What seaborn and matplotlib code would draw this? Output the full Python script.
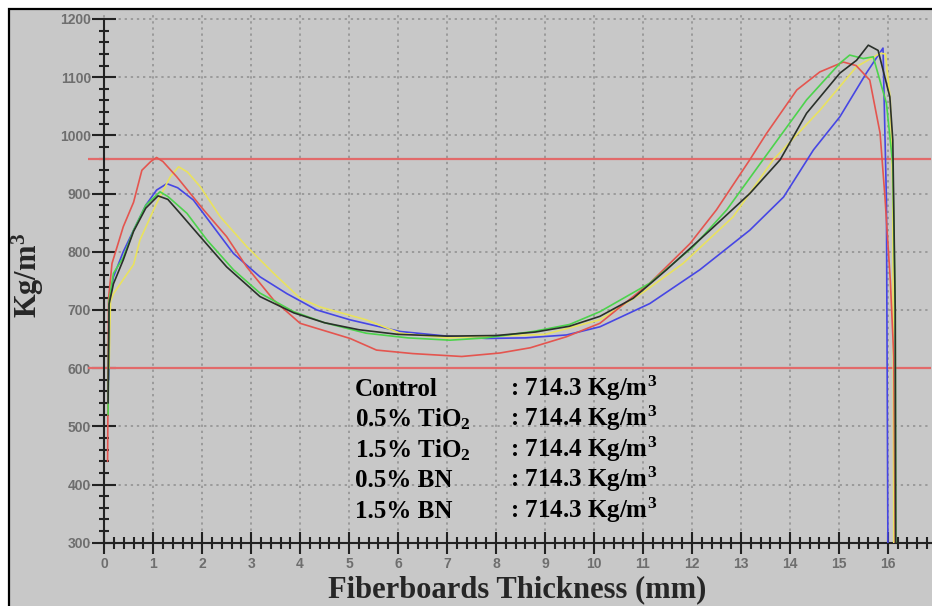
import numpy as np
import pandas as pd
import matplotlib
matplotlib.use("Agg")
import matplotlib.pyplot as plt
from matplotlib.patches import Rectangle
from matplotlib.ticker import FixedLocator
import seaborn as sns

# ---------------- data ----------------
red_x = [0.07, 0.09, 0.16, 0.39, 0.6, 0.77, 0.95, 1.07, 1.2, 1.48, 2.03, 2.5, 2.91, 3.46, 4.0,
         5.02, 5.56, 6.3, 7.3, 8.08, 8.7, 9.44, 10.12, 11.14, 11.96, 12.5, 13.18, 13.52, 14.14,
         14.61, 15.09, 15.35, 15.63, 15.84, 15.94, 16.05, 16.12, 16.15]
red_y = [440, 720, 780, 843, 885, 940, 955, 962, 955, 929, 872, 826, 774, 717, 677,
         651, 631, 625, 620, 626, 635, 654, 677, 746, 814, 872, 958, 1003, 1078,
         1109, 1126, 1120, 1095, 1004, 894, 750, 620, 300]

yellow_x = [0.1, 0.13, 0.19, 0.6, 0.73, 1.07, 1.35, 1.52, 1.7, 1.96, 2.37, 2.91, 3.46, 4.0, 4.41,
            5.35, 6.04, 7.0, 8.0, 9.0, 10.12, 11.0, 11.82, 12.84, 13.66, 14.61, 15.36, 15.84,
            15.95, 16.05, 16.1, 16.12]
yellow_y = [600, 715, 728, 778, 820, 883, 929, 946, 937, 912, 860, 809, 763, 720, 705,
            683, 660, 652, 655, 658, 683, 730, 780, 860, 958, 1043, 1118, 1141,
            1140, 1060, 900, 300]

blue_x = [0.09, 0.12, 0.19, 0.39, 0.6, 0.85, 1.07, 1.28, 1.5, 1.82, 2.23, 2.64, 3.18, 3.73, 4.34,
          5.02, 6.04, 7.0, 7.81, 8.6, 9.44, 10.12, 11.14, 12.16, 13.18, 13.87, 14.48, 15.02,
          15.56, 15.9, 15.97, 16.0]
blue_y = [580, 720, 757, 800, 837, 880, 906, 917, 910, 889, 843, 797, 757, 728, 700,
          683, 663, 655, 651, 652, 657, 671, 711, 769, 837, 894, 975, 1032,
          1107, 1150, 888, 300]

green_x = [0.08, 0.1, 0.19, 0.39, 0.6, 0.85, 1.14, 1.3, 1.69, 2.1, 2.64, 3.18, 3.87, 4.5, 5.35,
           6.2, 7.06, 7.8, 8.76, 9.5, 10.12, 11.14, 12.03, 12.71, 13.45, 14.34, 15.02, 15.22,
           15.5, 15.7, 15.97, 16.1, 16.15, 16.16]
green_y = [520, 715, 763, 790, 837, 880, 903, 895, 866, 820, 769, 729, 697, 678, 660,
           652, 648, 652, 663, 675, 697, 746, 809, 872, 958, 1061, 1124, 1138,
           1132, 1135, 1055, 950, 700, 300]

black_x = [0.08, 0.1, 0.19, 0.39, 0.6, 0.85, 1.1, 1.3, 1.55, 1.96, 2.5, 3.18, 3.87, 4.5, 5.2,
           6.0, 7.0, 8.0, 8.8, 9.5, 10.12, 10.8, 11.48, 12.37, 13.18, 13.8, 14.34, 15.02,
           15.36, 15.6, 15.8, 16.04, 16.1, 16.15, 16.16]
black_y = [540, 710, 745, 786, 835, 875, 896, 890, 866, 826, 774, 723, 695, 678, 666,
           658, 655, 656, 662, 672, 689, 720, 769, 837, 900, 958, 1038, 1107,
           1129, 1155, 1146, 1066, 992, 700, 300]

ref_lines = [960, 600]

legend_names = ["Control", "0.5% TiO$_2$", "1.5% TiO$_2$", "0.5% BN", "1.5% BN"]
legend_values = ["714.3", "714.4", "714.4", "714.3", "714.3"]

x_ticks = list(range(0, 17))
y_ticks = [300, 400, 500, 600, 700, 800, 900, 1000, 1100, 1200]

# ---------------- style ----------------
sns.set_style("ticks")
plt.rcParams["font.family"] = ["Liberation Serif", "DejaVu Serif"]
plt.rcParams["mathtext.fontset"] = "custom"
plt.rcParams["mathtext.rm"] = "Liberation Serif:bold"
plt.rcParams["mathtext.it"] = "Liberation Serif:bold:italic"
plt.rcParams["mathtext.bf"] = "Liberation Serif:bold"

W, H = 932, 606
fig = plt.figure(figsize=(W / 100, H / 100), dpi=100)
fig.patch.set_facecolor("white")
fig.patches.append(Rectangle((9 / W, -0.05), 1.2, (606 - 9) / H + 0.05,
                             transform=fig.transFigure, facecolor="#c8c8c8",
                             edgecolor="black", linewidth=1.6, zorder=-10))

left_px, right_px, bottom_px, top_px = 88, 931, 542.7, 12
ax = fig.add_axes([left_px / W, (H - bottom_px) / H,
                   (right_px - left_px) / W, (bottom_px - top_px) / H])
ax.set_facecolor("none")

series = [
    (blue_x, blue_y, "#4646e4"),
    (yellow_x, yellow_y, "#e9e25e"),
    (red_x, red_y, "#e4554f"),
    (green_x, green_y, "#4cd34c"),
    (black_x, black_y, "#2a302a"),
]
for xs, ys, col in series:
    df = pd.DataFrame({"x": xs, "y": ys})
    sns.lineplot(data=df, x="x", y="y", ax=ax, color=col, linewidth=1.2,
                 sort=False, estimator=None, zorder=3)

for v in ref_lines:
    ax.axhline(v, color="#e26a6a", linewidth=1.6, zorder=2)

ax.set_xlim(-0.33, 16.88)
ax.set_ylim(300, 1212)

# spines
for s in ["top", "right"]:
    ax.spines[s].set_visible(False)
ax.spines["left"].set_position(("data", 0))
ax.spines["left"].set_bounds(300, 1200)
ax.spines["bottom"].set_bounds(0, 16.88)
for s in ["left", "bottom"]:
    ax.spines[s].set_color("#222222")
    ax.spines[s].set_linewidth(1.5)

# ticks
ax.xaxis.set_major_locator(FixedLocator(x_ticks))
ax.yaxis.set_major_locator(FixedLocator(y_ticks))
ax.xaxis.set_minor_locator(FixedLocator(np.arange(0, 16.9, 0.2)))
ax.yaxis.set_minor_locator(FixedLocator(np.arange(300, 1201, 20)))
ax.set_xticklabels([str(t) for t in x_ticks])
ax.set_yticklabels([str(t) for t in y_ticks])
ax.tick_params(axis="y", which="major", direction="inout", length=17, width=1.5,
               color="#222222", labelsize=10, labelcolor="#6e6e6e", pad=1)
ax.tick_params(axis="y", which="minor", direction="inout", length=7, width=1.5,
               color="#222222")
ax.tick_params(axis="x", which="major", direction="inout", length=16, width=1.5,
               color="#222222", labelsize=10, labelcolor="#6e6e6e", pad=2)
ax.tick_params(axis="x", which="minor", direction="inout", length=9, width=1.5,
               color="#222222")
for lab in ax.get_xticklabels() + ax.get_yticklabels():
    lab.set_fontfamily(["Liberation Sans", "DejaVu Sans"])
    lab.set_fontweight("bold")

# grid
ax.grid(which="major", linestyle=(0, (1.5, 2.5)), color="#8e8e8e", linewidth=1.1, zorder=1)
ax.set_axisbelow(True)

ax.set_xlabel("")
ax.set_ylabel("")

# legend-like text block
row_y = [552, 500, 447, 395, 342]
for name, val, ry in zip(legend_names, legend_values, row_y):
    ax.text(5.12, ry, name, fontsize=18, fontweight="bold", color="black",
            va="baseline", ha="left", zorder=5)
    ax.text(8.29, ry, ": " + val + " Kg/m$^3$", fontsize=18, fontweight="bold",
            color="black", va="baseline", ha="left", zorder=5)

# axis titles
fig.text(517 / W, (H - 597) / H, "Fiberboards Thickness (mm)", fontsize=22,
         fontweight="bold", ha="center", va="baseline")
fig.text(28 / W, (H - 275) / H, "Kg/m$^3$", fontsize=22, fontweight="bold",
         rotation=90, ha="center", va="center")

fig.savefig("out.png", dpi=100)
